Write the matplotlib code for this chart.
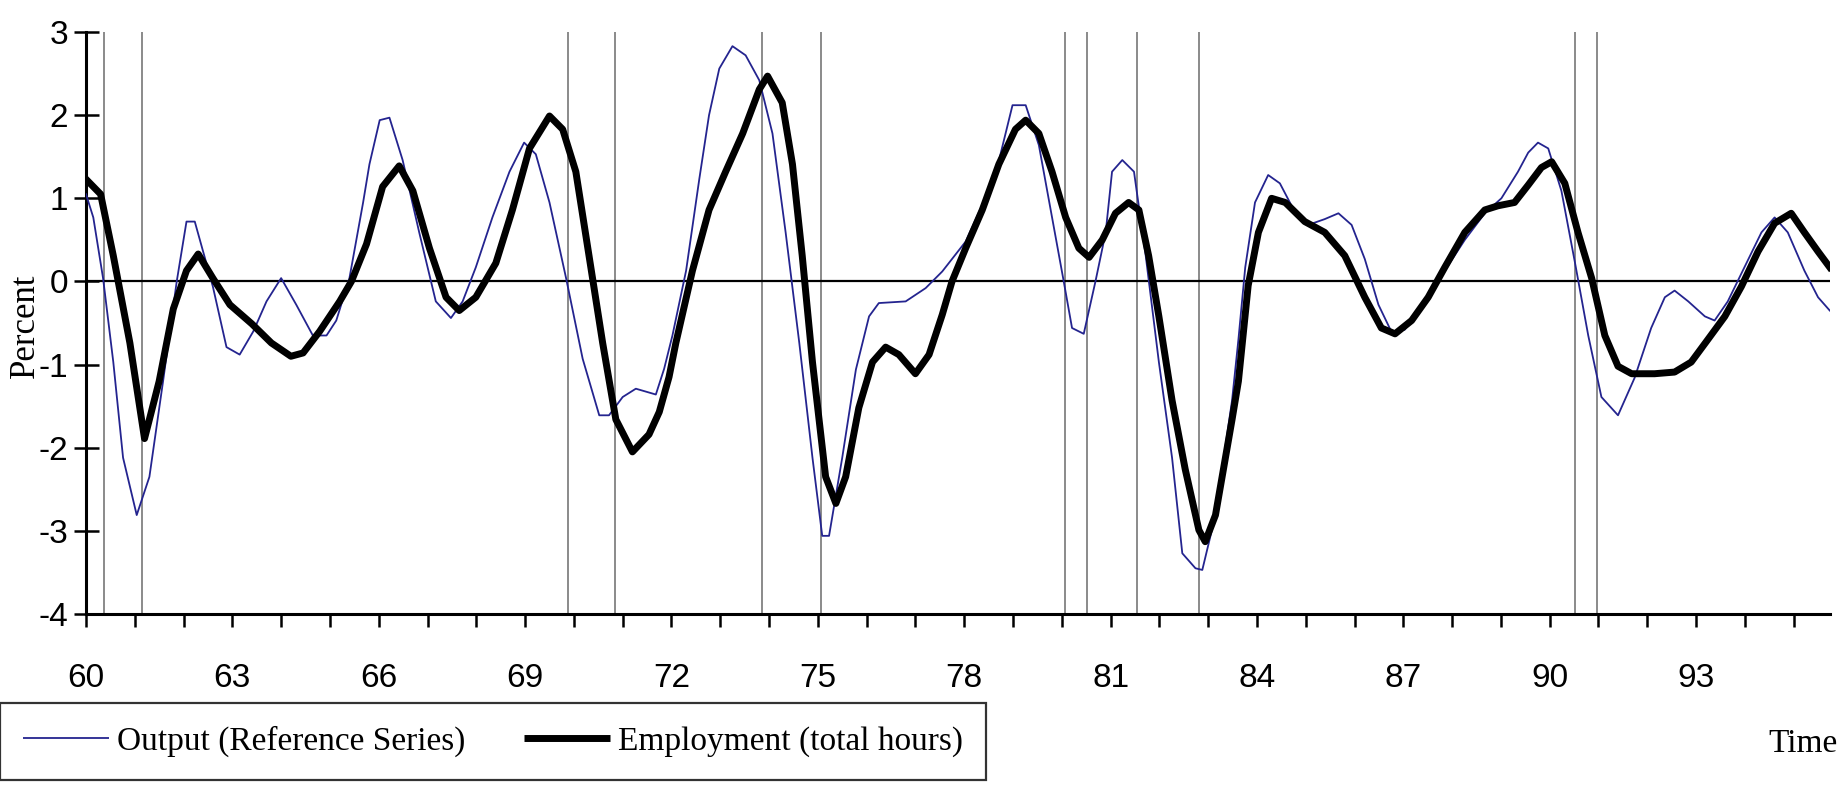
import matplotlib
matplotlib.use("Agg")
import matplotlib.pyplot as plt

# ── data (years as 60..95) ────────────────────────────────────────────────────
out_x = [60.0, 60.15, 60.35, 60.56, 60.76, 61.04, 61.3, 61.58, 61.86, 62.06, 62.23,
         62.6, 62.88, 63.15, 63.43, 63.7, 64.0, 64.31, 64.65, 64.93, 65.13, 65.4,
         65.68, 65.81, 66.02, 66.22, 66.49, 66.83, 67.17, 67.48, 67.72, 67.99, 68.33,
         68.68, 68.98, 69.22, 69.5, 69.84, 70.18, 70.52, 70.72, 71.0, 71.27, 71.68,
         71.85, 72.02, 72.3, 72.57, 72.77, 72.98, 73.25, 73.52, 73.8, 74.07, 74.34,
         74.62, 74.89, 75.09, 75.23, 75.5, 75.78, 76.05, 76.25, 76.8, 77.21, 77.55,
         78.03, 78.37, 78.71, 78.99, 79.26, 79.53, 79.8, 80.04, 80.21, 80.45, 80.69,
         80.9, 81.03, 81.24, 81.48, 81.72, 81.99, 82.26, 82.47, 82.74, 82.88, 83.15,
         83.49, 83.62, 83.76, 83.96, 84.23, 84.47, 84.71, 85.05, 85.39, 85.67, 85.94,
         86.21, 86.49, 86.76, 87.03, 87.44, 87.85, 88.26, 88.67, 89.01, 89.35, 89.56,
         89.76, 89.97, 90.24, 90.52, 90.79, 91.06, 91.4, 91.74, 92.08, 92.36, 92.56,
         92.84, 93.18, 93.38, 93.65, 93.99, 94.34, 94.61, 94.88, 95.22, 95.5, 95.74]
out_y = [1.05, 0.77, 0.04, -0.97, -2.12, -2.81, -2.35, -1.2, 0.0, 0.72, 0.72,
         -0.06, -0.79, -0.88, -0.6, -0.24, 0.04, -0.28, -0.65, -0.65, -0.47, 0.04,
         0.95, 1.41, 1.94, 1.97, 1.46, 0.59, -0.24, -0.44, -0.24, 0.17, 0.77,
         1.32, 1.67, 1.53, 0.95, 0.04, -0.93, -1.61, -1.61, -1.39, -1.29, -1.36,
         -1.05, -0.65, 0.13, 1.23, 2.0, 2.56, 2.83, 2.72, 2.42, 1.78, 0.59,
         -0.74, -2.12, -3.06, -3.06, -2.12, -1.06, -0.42, -0.26, -0.24, -0.08, 0.12,
         0.48, 0.92, 1.45, 2.12, 2.12, 1.64, 0.77, 0.0, -0.56, -0.63, 0.0,
         0.59, 1.32, 1.46, 1.32, 0.31, -0.97, -2.12, -3.27, -3.45, -3.47, -2.81,
         -1.43, -0.7, 0.17, 0.95, 1.28, 1.18, 0.91, 0.68, 0.75, 0.82, 0.68,
         0.27, -0.28, -0.61, -0.58, -0.24, 0.13, 0.5, 0.82, 1.0, 1.32, 1.55,
         1.67, 1.6, 1.09, 0.22, -0.65, -1.39, -1.61, -1.16, -0.56, -0.19, -0.11,
         -0.24, -0.42, -0.47, -0.24, 0.17, 0.59, 0.77, 0.59, 0.13, -0.19, -0.35]

emp_x = [60.0, 60.3, 60.56, 60.9, 61.2, 61.5, 61.79, 62.06, 62.3, 62.6, 62.95,
         63.4, 63.8, 64.2, 64.45, 64.79, 65.2, 65.44, 65.75, 66.08, 66.42, 66.7,
         67.04, 67.38, 67.65, 67.99, 68.4, 68.74, 69.09, 69.5, 69.77, 70.04, 70.31,
         70.59, 70.86, 71.2, 71.54, 71.75, 71.95, 72.09, 72.43, 72.77, 73.11, 73.46,
         73.8, 73.97, 74.27, 74.48, 74.68, 74.89, 75.16, 75.37, 75.57, 75.84, 76.12,
         76.39, 76.66, 77.0, 77.28, 77.55, 77.75, 78.03, 78.37, 78.71, 79.05, 79.26,
         79.53, 79.8, 80.08, 80.35, 80.56, 80.83, 81.1, 81.37, 81.58, 81.78, 81.99,
         82.26, 82.53, 82.81, 82.94, 83.15, 83.49, 83.62, 83.82, 84.03, 84.3, 84.58,
         84.98, 85.39, 85.8, 86.21, 86.55, 86.83, 87.17, 87.51, 87.85, 88.26, 88.67,
         88.94, 89.28, 89.56, 89.83, 90.04, 90.31, 90.58, 90.86, 91.13, 91.4, 91.68,
         92.15, 92.56, 92.9, 93.24, 93.59, 93.93, 94.27, 94.61, 94.95, 95.22, 95.5,
         95.74]
emp_y = [1.23, 1.05, 0.31, -0.74, -1.89, -1.2, -0.33, 0.13, 0.33, 0.04, -0.28,
         -0.51, -0.74, -0.9, -0.86, -0.6, -0.24, 0.0, 0.45, 1.14, 1.39, 1.09,
         0.4, -0.19, -0.35, -0.19, 0.22, 0.86, 1.6, 1.99, 1.83, 1.32, 0.31,
         -0.74, -1.66, -2.05, -1.84, -1.57, -1.15, -0.74, 0.13, 0.86, 1.32, 1.78,
         2.31, 2.47, 2.15, 1.41, 0.31, -0.97, -2.35, -2.67, -2.35, -1.52, -0.97,
         -0.79, -0.88, -1.11, -0.88, -0.4, 0.0, 0.4, 0.86, 1.41, 1.83, 1.94,
         1.78, 1.32, 0.77, 0.4, 0.29, 0.5, 0.82, 0.95, 0.86, 0.31, -0.42,
         -1.43, -2.26, -2.99, -3.13, -2.81, -1.66, -1.2, -0.05, 0.59, 1.0, 0.95,
         0.72, 0.59, 0.31, -0.19, -0.56, -0.63, -0.47, -0.19, 0.17, 0.59, 0.86,
         0.91, 0.95, 1.16, 1.37, 1.44, 1.18, 0.59, 0.04, -0.65, -1.02, -1.11,
         -1.11, -1.09, -0.97, -0.7, -0.42, -0.06, 0.36, 0.7, 0.82, 0.59, 0.36,
         0.17]

# business-cycle peak / trough markers
cycle_lines = [60.37, 61.14, 69.87, 70.84, 73.86, 75.07, 80.06, 80.51, 81.55,
               82.82, 90.52, 90.96]

x_ticks = list(range(60, 96))
x_labels = [str(t) if t % 3 == 0 else "" for t in x_ticks]
y_ticks = [3, 2, 1, 0, -1, -2, -3, -4]

sans = ["Liberation Sans", "DejaVu Sans"]
serif = ["Liberation Serif", "DejaVu Serif"]

fig = plt.figure(figsize=(18.45, 7.89), dpi=100)
ax = fig.add_axes([0.0466, 0.2218, 0.9454, 0.7376])

for xv in cycle_lines:
    ax.axvline(xv, color="#8a8a8a", lw=1.4, zorder=1)
ax.axhline(0, color="black", lw=1.6, zorder=2)

ax.plot(out_x, out_y, color="#24248f", lw=1.3, zorder=3,
        label="Output (Reference Series)")
ax.plot(emp_x, emp_y, color="black", lw=5.0, zorder=4, solid_joinstyle="round",
        label="Employment (total hours)")

ax.set_xlim(60, 95.75)
ax.set_ylim(-4, 3)
ax.set_xticks(x_ticks)
ax.set_xticklabels(x_labels, family=sans, fontsize=24)
ax.set_yticks(y_ticks)
ax.set_yticklabels([str(v) for v in y_ticks], family=sans, fontsize=24)
ax.tick_params(axis="x", direction="out", length=9.5, width=1.8, pad=26)
ax.tick_params(axis="y", direction="inout", length=18, width=1.8, pad=4)

for s in ["top", "right"]:
    ax.spines[s].set_visible(False)
for s in ["left", "bottom"]:
    ax.spines[s].set_linewidth(2.2)

fig.text(25 / 1845, 1 - 326 / 789, "Percent", rotation=90, ha="center",
         va="center", family=serif, fontsize=25)
fig.text(1838 / 1845, 1 - 744 / 789, "Time", ha="right", va="center",
         family=serif, fontsize=24)

leg = fig.legend(loc="upper left", bbox_to_anchor=(0.0, 1 - 703 / 789), ncol=2,
                 prop={"family": serif, "size": 24}, frameon=True, fancybox=False,
                 handlelength=2.6, handletextpad=0.24, columnspacing=1.74,
                 borderpad=0.68, borderaxespad=0.0)
leg.get_frame().set_edgecolor("black")
leg.get_frame().set_linewidth(1.6)
for line in leg.get_lines():
    line.set_solid_capstyle("butt")

fig.savefig("out.png", dpi=100)
